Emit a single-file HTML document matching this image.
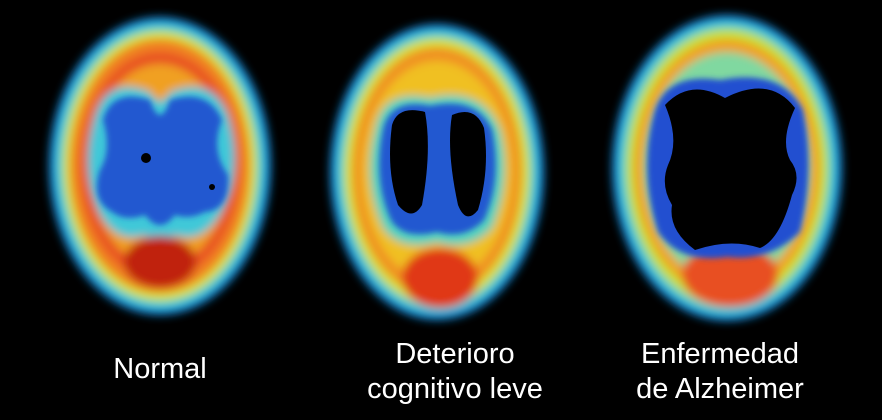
<!DOCTYPE html>
<html><head><meta charset="utf-8"><style>
html,body{margin:0;padding:0;background:#000;}
#wrap{position:relative;width:882px;height:420px;background:#000;overflow:hidden;}
.lbl{position:absolute;color:#fff;font-family:"Liberation Sans",sans-serif;font-size:29px;text-align:center;line-height:35px;}
</style></head><body>
<div id="wrap">
<svg width="882" height="420" style="position:absolute;left:0;top:0">
<defs>
<filter id="b1" x="-20%" y="-20%" width="140%" height="140%"><feGaussianBlur stdDeviation="4.5"/></filter>
<filter id="b2" x="-20%" y="-20%" width="140%" height="140%"><feGaussianBlur stdDeviation="3"/></filter>
</defs>
<!-- Normal -->
<g>
<g filter="url(#b1)">
<ellipse cx="160" cy="166" rx="111" ry="149" fill="#1888d8"/>
<ellipse cx="160" cy="166" rx="104" ry="142" fill="#40d0d0"/>
<ellipse cx="160" cy="166" rx="97" ry="135" fill="#d8e030"/>
<ellipse cx="160" cy="166" rx="90" ry="127" fill="#f08020"/>
<ellipse cx="160" cy="166" rx="80" ry="114" fill="#e85020"/>
<ellipse cx="160" cy="166" rx="70" ry="102" fill="#f0a020"/>
<path d="M95 115 Q108 75 150 92 Q160 110 170 92 Q212 75 228 115 Q245 170 220 215 Q200 245 175 235 Q160 255 145 235 Q118 245 100 215 Q78 170 95 115Z" fill="#40c8d8"/>
<ellipse cx="160" cy="262" rx="36" ry="26" fill="#c02010"/>
</g>
<g filter="url(#b2)">
<path d="M103 120 Q112 88 150 100 Q160 130 170 100 Q208 88 222 120 Q210 150 228 175 Q230 210 205 212 Q190 220 175 215 Q160 235 145 215 Q125 222 112 212 Q90 200 100 170 Q112 150 103 120Z" fill="#2058d0"/>
</g>
<circle cx="146" cy="158" r="5" fill="#000"/>
<circle cx="212" cy="187" r="3" fill="#000"/>
</g>
<!-- MCI -->
<g>
<g filter="url(#b1)">
<ellipse cx="437" cy="172" rx="107" ry="148" fill="#1888d8"/>
<ellipse cx="437" cy="172" rx="100" ry="141" fill="#40d0d0"/>
<ellipse cx="437" cy="172" rx="93" ry="134" fill="#d8e030"/>
<ellipse cx="437" cy="172" rx="85" ry="125" fill="#f09020"/>
<ellipse cx="437" cy="172" rx="75" ry="111" fill="#f0c020"/>
<path d="M375 130 Q382 88 430 98 Q482 86 500 130 Q512 180 492 228 Q470 252 437 242 Q400 252 383 228 Q362 180 375 130Z" fill="#50d0c0"/>
<ellipse cx="440" cy="278" rx="38" ry="30" fill="#e03818"/>
</g>
<g filter="url(#b2)">
<path d="M383 130 Q390 98 430 106 Q477 96 492 130 Q502 180 484 220 Q465 240 437 232 Q403 240 391 220 Q373 180 383 130Z" fill="#2058d0"/>
</g>
<path d="M392 125 Q398 105 425 112 Q432 150 422 205 Q412 222 398 205 Q386 170 392 125Z" fill="#000"/>
<path d="M452 115 Q475 105 484 128 Q490 170 478 210 Q466 225 458 205 Q446 150 452 115Z" fill="#000"/>
</g>
<!-- AD -->
<g>
<g filter="url(#b1)">
<ellipse cx="727" cy="168" rx="115" ry="153" fill="#1888d8"/>
<ellipse cx="727" cy="168" rx="108" ry="146" fill="#40d0d0"/>
<ellipse cx="727" cy="168" rx="101" ry="139" fill="#c8e030"/>
<ellipse cx="727" cy="168" rx="93" ry="129" fill="#f0a020"/>
<ellipse cx="727" cy="168" rx="83" ry="116" fill="#80d8a0"/>
<ellipse cx="730" cy="275" rx="48" ry="32" fill="#e85020"/>
</g>
<g filter="url(#b2)">
<path d="M655 110 Q668 72 720 80 Q782 68 803 110 Q815 170 800 232 Q770 262 727 257 Q680 264 658 232 Q638 170 655 110Z" fill="#2050d0"/>
</g>
<path d="M665 105 Q690 78 725 98 Q770 75 795 108 Q780 140 790 160 Q802 175 792 195 Q780 240 760 248 Q730 238 695 250 Q668 230 672 205 Q660 185 668 165 Q680 140 665 105Z" fill="#000"/>
</g>
</svg>
<div class="lbl" style="left:80px;top:352px;width:160px;">Normal</div>
<div class="lbl" style="left:340px;top:337px;width:230px;">Deterioro<br>cognitivo leve</div>
<div class="lbl" style="left:600px;top:337px;width:240px;">Enfermedad<br>de Alzheimer</div>
</div>
</body></html>
